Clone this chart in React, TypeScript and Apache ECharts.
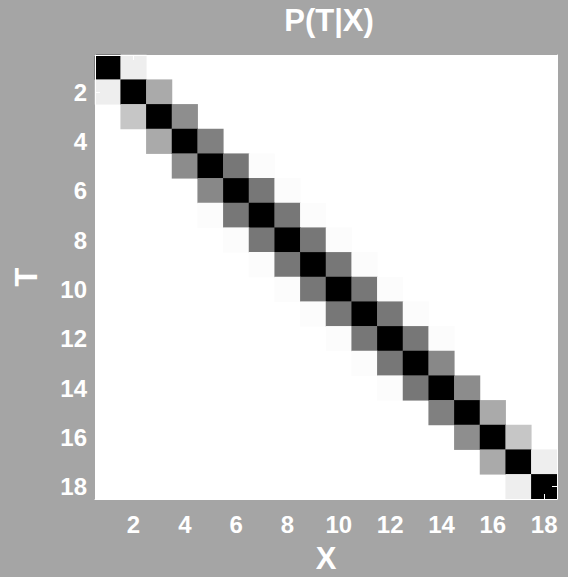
import React, { useEffect, useRef } from "react";
import * as echarts from "echarts";

const categories = ["1","2","3","4","5","6","7","8","9","10","11","12","13","14","15","16","17","18"];
// darkness of cells relative to the diagonal (1 = black, 0 = white)
const diagonal = [1,1,1,1,1,1,1,1,1,1,1,1,1,1,1,1,1,1];
// cell (T, X = T + 1), T = 1..17
const upper1 = [0.067,0.333,0.443,0.498,0.533,0.533,0.533,0.533,0.533,0.533,0.533,0.533,0.467,0.451,0.333,0.224,0.067];
// cell (T + 1, X = T), T = 1..17
const lower1 = [0.067,0.224,0.333,0.451,0.467,0.533,0.533,0.533,0.533,0.533,0.533,0.533,0.533,0.498,0.443,0.333,0.067];
// cell (T, X = T + 2), T = 1..16
const upper2 = [0,0,0,0,0.012,0.012,0.012,0.012,0.012,0.012,0.012,0.012,0,0,0,0];
// cell (T + 2, X = T), T = 1..16
const lower2 = [0,0,0,0,0.012,0.012,0.012,0.012,0.012,0.012,0.012,0.012,0,0,0,0];

const FONT = "'Liberation Sans', Arial, sans-serif";

function buildData() {
  const n = categories.length;
  const m: number[][] = [];
  for (let t = 0; t < n; t++) {
    m.push(new Array(n).fill(0));
  }
  diagonal.forEach((v, i) => (m[i][i] = v));
  upper1.forEach((v, i) => (m[i][i + 1] = v));
  lower1.forEach((v, i) => (m[i + 1][i] = v));
  upper2.forEach((v, i) => (m[i][i + 2] = v));
  lower2.forEach((v, i) => (m[i + 2][i] = v));
  const data: number[][] = [];
  for (let t = 0; t < n; t++) {
    for (let x = 0; x < n; x++) {
      if (m[t][x] > 0) data.push([x, t, m[t][x]]);
    }
  }
  return data;
}

export default function App() {
  const ref = useRef<HTMLDivElement>(null);
  useEffect(() => {
    if (!ref.current) return;
    const chart = echarts.init(ref.current, null, { renderer: "svg" });
    const evenOnly = (index: number) => index % 2 === 1;
    const tickCommon = {
      show: true,
      inside: true,
      length: 5,
      alignWithLabel: true,
      interval: evenOnly,
      lineStyle: { color: "#ffffff", width: 1 },
    };
    const labelCommon = {
      color: "#ffffff",
      fontWeight: "bold" as const,
      fontSize: 24,
      fontFamily: FONT,
      interval: evenOnly,
    };
    const nameStyle = { color: "#ffffff", fontWeight: "bold" as const, fontSize: 31, fontFamily: FONT };
    chart.setOption({
      animation: false,
      backgroundColor: "#a5a5a5",
      title: {
        text: "P(T|X)",
        left: 324,
        top: 0,
        textAlign: "center",
        textStyle: nameStyle,
      },
      grid: {
        left: 95,
        right: 11,
        top: 55,
        bottom: 78,
        containLabel: false,
        outerBoundsMode: "none",
        show: true,
        backgroundColor: "#ffffff",
        borderWidth: 0,
      },
      visualMap: {
        show: false,
        min: 0,
        max: 1,
        inRange: { color: ["#ffffff", "#000000"] },
      },
      xAxis: [
        {
          type: "category",
          data: categories,
          position: "bottom",
          z: 10,
          name: "X",
          nameLocation: "middle",
          nameGap: 44,
          nameTextStyle: nameStyle,
          axisLine: { show: true, lineStyle: { color: "#ffffff" } },
          axisTick: tickCommon,
          axisLabel: { ...labelCommon, margin: 13 },
          splitLine: { show: false },
        },
        {
          type: "category",
          data: categories,
          position: "top",
          z: 10,
          axisLine: { show: true, lineStyle: { color: "#ffffff" } },
          axisTick: tickCommon,
          axisLabel: { show: false },
          splitLine: { show: false },
        },
      ],
      yAxis: [
        {
          type: "category",
          data: categories,
          inverse: true,
          position: "left",
          z: 10,
          name: "T",
          nameLocation: "middle",
          nameGap: 53,
          nameTextStyle: nameStyle,
          axisLine: { show: true, lineStyle: { color: "#ffffff" } },
          axisTick: tickCommon,
          axisLabel: { ...labelCommon, margin: 8 },
          splitLine: { show: false },
        },
        {
          type: "category",
          data: categories,
          inverse: true,
          position: "right",
          z: 10,
          axisLine: { show: true, lineStyle: { color: "#ffffff" } },
          axisTick: tickCommon,
          axisLabel: { show: false },
          splitLine: { show: false },
        },
      ],
      series: [
        {
          type: "heatmap",
          xAxisIndex: 0,
          yAxisIndex: 0,
          data: buildData(),
          itemStyle: { borderWidth: 0 },
          emphasis: { disabled: true },
        },
      ],
    });
    return () => chart.dispose();
  }, []);
  return (
    <div
      ref={ref}
      style={{ position: "absolute", left: 0, top: 0, width: 568, height: 577 }}
    />
  );
}
